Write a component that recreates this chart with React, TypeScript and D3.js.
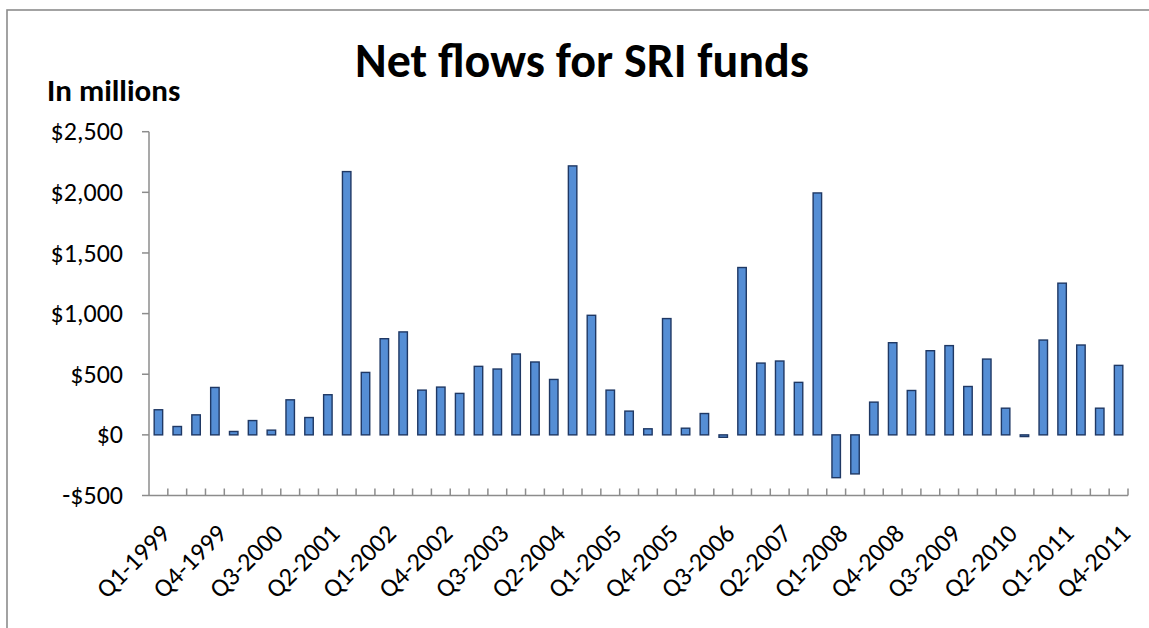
import React from "react";
import * as d3 from "d3";

const years = [1999, 2000, 2001, 2002, 2003, 2004, 2005, 2006, 2007, 2008, 2009, 2010, 2011];
const quarters = ["Q1", "Q2", "Q3", "Q4"];
const categories: string[] = years.flatMap((y) => quarters.map((q) => `${q}-${y}`));

const netFlows: number[] = [
  207, 69, 165, 391, 28, 118, 39, 289, 143, 331, 2171, 515, 793, 849, 369, 394,
  342, 565, 543, 667, 601, 457, 2218, 986, 369, 196, 50, 959, 55, 176, -20, 1380,
  592, 609, 433, 1995, -353, -322, 270, 760, 366, 694, 736, 399, 625, 220, -14, 782,
  1251, 741, 220, 573,
];

const yTicks = [-500, 0, 500, 1000, 1500, 2000, 2500];
const labelEvery = 3;

const W = 1149;
const H = 628;
const FONT = "Carlito, Calibri, Lato, 'Noto Sans', sans-serif";

export default function App() {
  const x0 = 149;
  const x1 = 1128;
  const yTop = 131.7;
  const yBot = 495.5;

  const x = d3.scaleBand<string>().domain(categories).range([x0, x1]).padding(0);
  const y = d3.scaleLinear().domain([-500, 2500]).range([yBot, yTop]);
  const bw = x.bandwidth() * 0.45;
  const fmt = (v: number) => (v < 0 ? "-$" : "$") + d3.format(",")(Math.abs(v));

  return (
    <svg width={W} height={H} style={{ position: "absolute", left: 0, top: 0, background: "#fff" }}>
      <rect x={7} y={10} width={W + 10} height={H + 10} fill="#fff" stroke="#8c8c8c" strokeWidth={1.6} />
      <text x={582} y={77} textAnchor="middle" fontFamily={FONT} fontWeight="bold" fontSize={48} fill="#000">
        Net flows for SRI funds
      </text>
      <text x={47} y={101} fontFamily={FONT} fontWeight="bold" fontSize={31} fill="#000">
        In millions
      </text>
      {/* y axis */}
      <line x1={x0} x2={x0} y1={yTop} y2={yBot} stroke="#8c8c8c" strokeWidth={1.5} />
      {yTicks.map((t) => (
        <g key={t}>
          <line x1={x0 - 7} x2={x0} y1={y(t)} y2={y(t)} stroke="#8c8c8c" strokeWidth={1.5} />
          <text x={123} y={y(t)} dy="0.33em" textAnchor="end" fontFamily={FONT} fontSize={26} fill="#000">
            {fmt(t)}
          </text>
        </g>
      ))}
      {/* bars */}
      {categories.map((c, i) => {
        const v = netFlows[i];
        const cx = (x(c) as number) + x.bandwidth() / 2;
        const top = Math.min(y(v), y(0));
        const h = Math.max(Math.abs(y(v) - y(0)), 1.5);
        return (
          <rect key={c} x={cx - bw / 2} y={top} width={bw} height={h} fill="#558ed5" stroke="#1f3864" strokeWidth={1.4} />
        );
      })}
      {/* x axis */}
      <line x1={x0} x2={x1} y1={yBot} y2={yBot} stroke="#8c8c8c" strokeWidth={1.5} />
      {categories.map((c) => (
        <line key={"t" + c} x1={(x(c) as number) + x.bandwidth()} x2={(x(c) as number) + x.bandwidth()} y1={yBot} y2={yBot - 7} stroke="#8c8c8c" strokeWidth={1.5} />
      ))}
      {categories.map((c, i) =>
        i % labelEvery === 0 ? (
          <text
            key={"l" + c}
            transform={`translate(${(x(c) as number) + x.bandwidth() / 2 + 1},${523}) rotate(-45)`}
            dy="0.66em"
            textAnchor="end"
            fontFamily={FONT}
            fontSize={26}
            fill="#000"
          >
            {c}
          </text>
        ) : null
      )}
    </svg>
  );
}
